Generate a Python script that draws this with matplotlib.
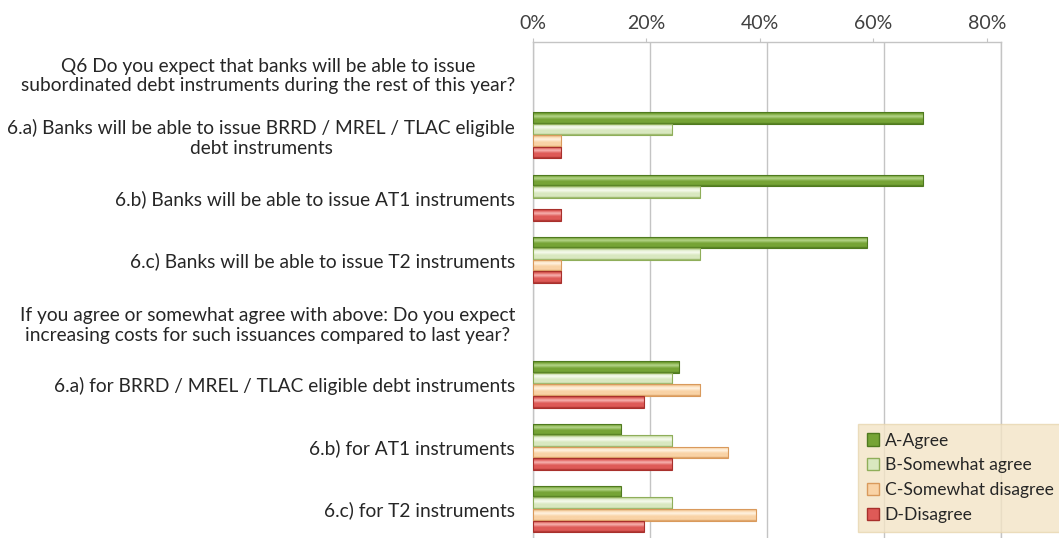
import numpy as np
import matplotlib
matplotlib.use("Agg")
import matplotlib.pyplot as plt
from matplotlib.patches import Patch
from matplotlib.colors import to_rgb
from matplotlib.textpath import TextPath
from matplotlib.font_manager import FontProperties

plt.rcParams['font.family'] = ['Lato', 'DejaVu Sans']

categories = [
    "Q6 Do you expect that banks will be able to issue\nsubordinated debt instruments during the rest of this year?",
    "6.a) Banks will be able to issue BRRD / MREL / TLAC eligible\ndebt instruments",
    "6.b) Banks will be able to issue AT1 instruments",
    "6.c) Banks will be able to issue T2 instruments",
    "If you agree or somewhat agree with above: Do you expect\nincreasing costs for such issuances compared to last year?",
    "6.a) for BRRD / MREL / TLAC eligible debt instruments",
    "6.b) for AT1 instruments",
    "6.c) for T2 instruments",
]
series_names = ["A-Agree", "B-Somewhat agree", "C-Somewhat disagree", "D-Disagree"]
agree = [0, 66.7, 66.7, 57.1, 0, 25.0, 15.0, 15.0]
somewhat_agree = [0, 23.8, 28.6, 28.6, 0, 23.8, 23.8, 23.8]
somewhat_disagree = [0, 4.8, 0, 4.8, 0, 28.6, 33.3, 38.1]
disagree = [0, 4.8, 4.8, 4.8, 0, 19.0, 23.8, 19.0]
xticks = [0, 20, 40, 60, 80]
xtick_labels = ["0%", "20%", "40%", "60%", "80%"]

series = [agree, somewhat_agree, somewhat_disagree, disagree]
# (dark edge, base, highlight)
colors = [
    ("#4f7a1f", "#76a436", "#b5d58a"),
    ("#8fae5a", "#d9e8c0", "#f7fbef"),
    ("#d99a5c", "#f9d3a6", "#fff3e2"),
    ("#a8302c", "#de5a57", "#f7b3b0"),
]

# choose label font size so the widest label line fits the space left of the axes
fp = FontProperties(family='Lato', size=10)
maxw_pt = max(TextPath((0, 0), line, prop=fp).get_extents().width
              for c in categories for line in c.split("\n"))
label_fs = min(14.2, 10 * (505 * 72 / 100) / maxw_pt)

fig = plt.figure(figsize=(10.59, 5.38), dpi=100)
ax = fig.add_axes([0.5033, -0.004, 0.4419, 0.9259])

n = len(categories)
y = np.arange(n)
bh = 0.185

def grad(c_edge, c_base, c_hi, N=32):
    e, b, h = np.array(to_rgb(c_edge)), np.array(to_rgb(c_base)), np.array(to_rgb(c_hi))
    t = np.linspace(0, 1, N)
    out = []
    for tt in t:
        if tt < 0.12:
            c = e + (b - e) * (tt / 0.12)
        elif tt < 0.35:
            c = b + (h - b) * ((tt - 0.12) / 0.23)
        elif tt < 0.6:
            c = h + (b - h) * ((tt - 0.35) / 0.25)
        elif tt < 0.88:
            c = b
        else:
            c = b + (e - b) * ((tt - 0.88) / 0.12)
        out.append(c)
    return np.array(out)[:, None, :]

for i, (vals, (ce, cb, chh)) in enumerate(zip(series, colors)):
    offs = (i - 1.5) * bh
    bars = ax.barh(y + offs, vals, height=bh, color=cb, linewidth=0, zorder=3)
    g = grad(ce, cb, chh)
    for bar in bars:
        w = bar.get_width()
        if w <= 0:
            bar.set_visible(False)
            continue
        y0 = bar.get_y()
        im = ax.imshow(g, extent=[0, w, y0 + bar.get_height(), y0], aspect='auto',
                       zorder=3.5, interpolation='bilinear')
        im.set_clip_path(bar)
        ax.add_patch(plt.Rectangle((0, y0), w, bar.get_height(), fill=False,
                                   edgecolor=ce, linewidth=0.8, zorder=4))

ax.set_xlim(0, 80)
ax.set_ylim(n - 0.5, -0.5)
ax.set_xticks(xticks)
ax.tick_params(axis='x', which='both', length=0, labeltop=False, labelbottom=False)
ax.grid(axis='x', color='#c4c4c4', linewidth=1.0, zorder=0)
ax.set_axisbelow(True)
for s in ['left', 'top', 'right']:
    ax.spines[s].set_color('#c4c4c4')
    ax.spines[s].set_linewidth(1.0)
ax.spines['bottom'].set_visible(False)

ax.set_yticks(y)
ax.set_yticklabels(categories, fontsize=label_fs, color='#262626', multialignment='center',
                   linespacing=1.2)
ax.tick_params(axis='y', length=0, pad=13)

# top tick labels (perspective-shifted as in the reference)
ax2 = ax.twiny()
ax2.set_xlim(0, 80 * 468 / 454)
ax2.set_xticks(xticks)
ax2.set_xticklabels(xtick_labels, fontsize=14, color='#404040')
ax2.tick_params(axis='x', length=3, color='#c4c4c4', pad=4, top=True, labeltop=True)
for s in ax2.spines.values():
    s.set_visible(False)

handles = [Patch(facecolor=cb, edgecolor=ce, label=nm) for nm, (ce, cb, chh) in zip(series_names, colors)]
leg = fig.legend(handles=handles, loc='lower right', bbox_to_anchor=(1.003, 0.012),
                 fontsize=12.6, frameon=True, fancybox=False, handlelength=0.7, handleheight=0.7,
                 handletextpad=0.3, labelspacing=0.5, borderpad=0.5, borderaxespad=0)
leg.get_frame().set_facecolor('#f3e4c6')
leg.get_frame().set_edgecolor('#e8d6b0')
for t in leg.get_texts():
    t.set_color('#262626')

fig.savefig("out.png", dpi=100)
